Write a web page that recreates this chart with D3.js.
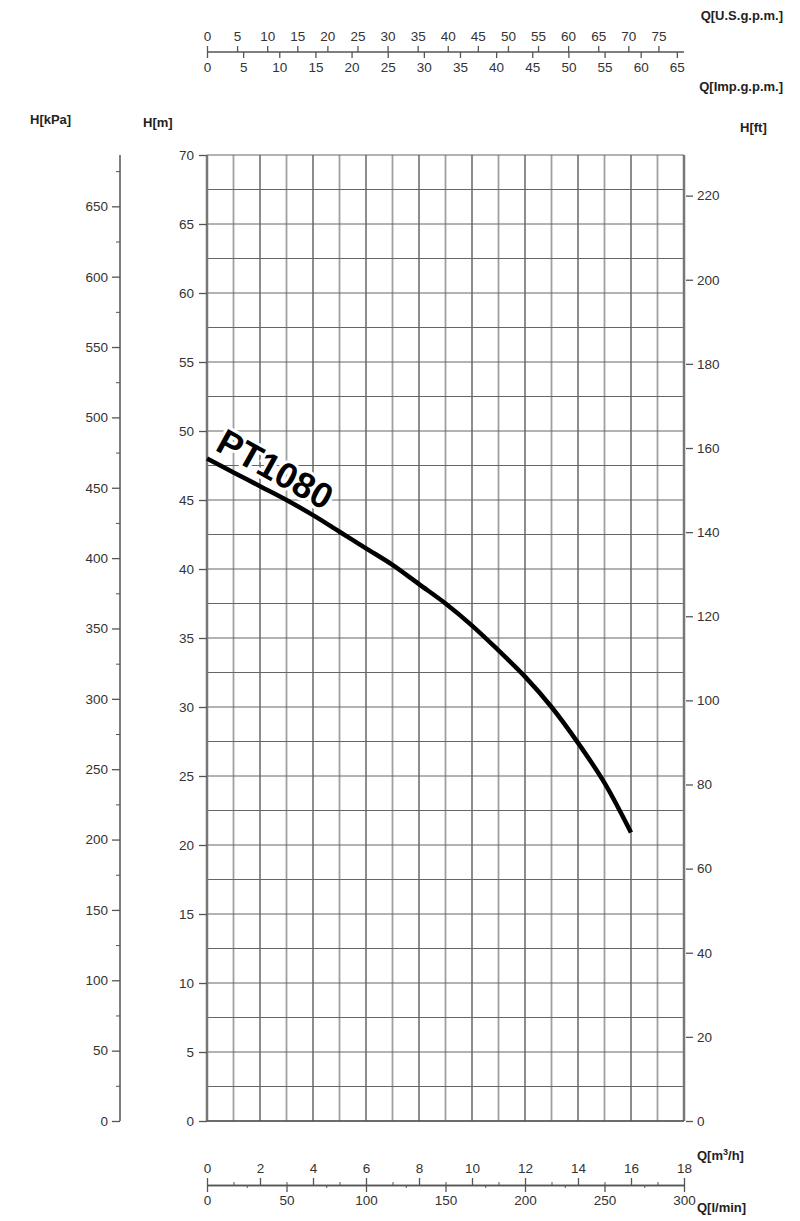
<!doctype html>
<html>
<head>
<meta charset="utf-8">
<script src="https://cdnjs.cloudflare.com/ajax/libs/d3/7.8.5/d3.min.js"></script>
<style>
  body { margin: 0; background: #fff; }
  svg { display: block; font-family: "Liberation Sans", Arial, sans-serif; }
  .axis text { font-size: 13.5px; fill: #333; }
  .axis path, .axis line { stroke: #555; }
  .title { font-size: 13px; font-weight: bold; fill: #222; }
</style>
</head>
<body>
<div id="chart"></div>
<script>
var w = 800, h = 1221;

// pump curve PT1080, Q in m3/h, H in m
var flowM3h = [0, 1, 2, 3, 4, 5, 6, 7, 8, 9, 10, 11, 12, 13, 14, 15, 16];
var headM = [48.0, 47.0, 46.0, 45.0, 43.9, 42.7, 41.5, 40.3, 38.9, 37.5, 35.9, 34.1, 32.2, 30.0, 27.4, 24.5, 20.9];
var curveName = "PT1080";

// tick labels
var mTicks = [0, 5, 10, 15, 20, 25, 30, 35, 40, 45, 50, 55, 60, 65, 70];
var kpaTicks = [0, 50, 100, 150, 200, 250, 300, 350, 400, 450, 500, 550, 600, 650];
var ftTicks = [0, 20, 40, 60, 80, 100, 120, 140, 160, 180, 200, 220];
var m3hTicks = [0, 2, 4, 6, 8, 10, 12, 14, 16, 18];
var lminTicks = [0, 50, 100, 150, 200, 250, 300];
var usTicks = [0, 5, 10, 15, 20, 25, 30, 35, 40, 45, 50, 55, 60, 65, 70, 75];
var impTicks = [0, 5, 10, 15, 20, 25, 30, 35, 40, 45, 50, 55, 60, 65];

var pLeft = 207, pRight = 684, pTop = 155, pBottom = 1121;
var qMax = 18, hMax = 70;

var x = d3.scaleLinear().domain([0, qMax]).range([pLeft, pRight]);
var y = d3.scaleLinear().domain([0, hMax]).range([pBottom, pTop]);
var yKpa = d3.scaleLinear().domain([0, hMax * 9.80665]).range([pBottom, pTop]);
var yFt = d3.scaleLinear().domain([0, hMax / 0.3048]).range([pBottom, pTop]);
var xLmin = d3.scaleLinear().domain([0, qMax * 1000 / 60]).range([pLeft, pRight]);
var xUs = d3.scaleLinear().domain([0, qMax * 1000 / 60 / 3.78541]).range([pLeft, pRight]);
var xImp = d3.scaleLinear().domain([0, qMax * 1000 / 60 / 4.54609]).range([pLeft, pRight]);

var svg = d3.select("#chart").append("svg")
    .attr("width", w)
    .attr("height", h);

// grid
svg.append("g").selectAll("line")
    .data(d3.range(0, qMax + 1, 1))
    .enter().append("line")
    .attr("x1", function (d) { return x(d); })
    .attr("x2", function (d) { return x(d); })
    .attr("y1", pTop).attr("y2", pBottom)
    .attr("stroke", function (d) { return d % 2 ? "#a0a0a0" : "#808080"; })
    .attr("stroke-width", 1.8);

svg.append("g").selectAll("line")
    .data(d3.range(0, hMax + 0.1, 2.5))
    .enter().append("line")
    .attr("x1", pLeft).attr("x2", pRight)
    .attr("y1", function (d) { return y(d); })
    .attr("y2", function (d) { return y(d); })
    .attr("stroke", "#666")
    .attr("stroke-width", 1);

// frame
svg.append("line").attr("x1", pLeft).attr("x2", pLeft).attr("y1", pTop).attr("y2", pBottom)
    .attr("stroke", "#777").attr("stroke-width", 2.5);
svg.append("line").attr("x1", pRight).attr("x2", pRight).attr("y1", pTop).attr("y2", pBottom)
    .attr("stroke", "#777").attr("stroke-width", 2.5);
svg.append("line").attr("x1", pLeft).attr("x2", pRight).attr("y1", pBottom).attr("y2", pBottom)
    .attr("stroke", "#555").attr("stroke-width", 1.5);

function tidy(g) {
    g.select(".domain").attr("stroke-width", 1.5);
    g.selectAll(".tick line").attr("stroke-width", 1.3);
}

// H[m] axis
svg.append("g").attr("class", "axis")
    .attr("transform", "translate(" + pLeft + ",0)")
    .call(d3.axisLeft(y).tickValues(mTicks).tickSize(8).tickPadding(5).tickSizeOuter(0))
    .call(function (g) { g.select(".domain").remove(); g.selectAll(".tick line").attr("stroke-width", 1.3); });

// H[kPa] axis
var kpaX = 120;
svg.append("g").attr("class", "axis")
    .attr("transform", "translate(" + kpaX + ",0)")
    .call(d3.axisLeft(yKpa).tickValues(d3.range(25, 700, 50)).tickSize(4).tickFormat("").tickSizeOuter(0))
    .call(function (g) { g.select(".domain").remove(); });
svg.append("g").attr("class", "axis")
    .attr("transform", "translate(" + kpaX + ",0)")
    .call(d3.axisLeft(yKpa).tickValues(kpaTicks).tickSize(8).tickPadding(4).tickSizeOuter(0))
    .call(tidy)
    .call(function (g) { g.select(".domain").attr("d", "M0," + pTop + "V" + pBottom); });

// H[ft] axis
svg.append("g").attr("class", "axis")
    .attr("transform", "translate(" + (pRight + 2) + ",0)")
    .call(d3.axisRight(yFt).tickValues(ftTicks).tickSize(7).tickPadding(4).tickSizeOuter(0))
    .call(function (g) { g.select(".domain").remove(); g.selectAll(".tick line").attr("stroke-width", 1.3); });

// bottom axes
var qY = 1185;
svg.append("g").attr("class", "axis")
    .attr("transform", "translate(0," + qY + ")")
    .call(d3.axisTop(x).tickValues(d3.range(1, 18, 2)).tickSize(3).tickFormat("").tickSizeOuter(0))
    .call(function (g) { g.select(".domain").remove(); });
svg.append("g").attr("class", "axis")
    .attr("transform", "translate(0," + qY + ")")
    .call(d3.axisTop(x).tickValues(m3hTicks).tickSize(7).tickPadding(5).tickSizeOuter(0))
    .call(tidy);
svg.append("g").attr("class", "axis")
    .attr("transform", "translate(0," + qY + ")")
    .call(d3.axisBottom(xLmin).tickValues(d3.range(25, 300, 50)).tickSize(3).tickFormat("").tickSizeOuter(0))
    .call(function (g) { g.select(".domain").remove(); });
svg.append("g").attr("class", "axis")
    .attr("transform", "translate(0," + qY + ")")
    .call(d3.axisBottom(xLmin).tickValues(lminTicks).tickSize(7).tickPadding(3).tickSizeOuter(0))
    .call(tidy);

// top axes
var gY = 52;
svg.append("g").attr("class", "axis")
    .attr("transform", "translate(0," + gY + ")")
    .call(d3.axisTop(xUs).tickValues(usTicks).tickSize(6).tickPadding(5).tickSizeOuter(0))
    .call(tidy)
    .call(function (g) { g.select(".domain").attr("d", "M" + pLeft + ",0H" + pRight); });
svg.append("g").attr("class", "axis")
    .attr("transform", "translate(0," + gY + ")")
    .call(d3.axisBottom(xImp).tickValues(impTicks).tickSize(6).tickPadding(4).tickSizeOuter(0))
    .call(function (g) { g.select(".domain").remove(); g.selectAll(".tick line").attr("stroke-width", 1.3); });

// axis titles
function title(tx, ty, s, anchor) {
    svg.append("text").attr("class", "title")
        .attr("x", tx).attr("y", ty)
        .attr("text-anchor", anchor || "start")
        .text(s);
}
title(783, 20, "Q[U.S.g.p.m.]", "end");
title(783, 91, "Q[Imp.g.p.m.]", "end");
title(30, 124, "H[kPa]");
title(143, 127, "H[m]");
title(740, 132, "H[ft]");
svg.append("text").attr("class", "title").attr("x", 697).attr("y", 1160)
    .html("Q[m<tspan font-size='9' dy='-5'>3</tspan><tspan dy='5'>/h]</tspan>");
title(697, 1212, "Q[l/min]");

// curve
var line = d3.line()
    .x(function (d, i) { return x(flowM3h[i]); })
    .y(function (d) { return y(d); })
    .curve(d3.curveCatmullRom);

svg.append("path")
    .datum(headM)
    .attr("d", line)
    .attr("fill", "none")
    .attr("stroke", "#000")
    .attr("stroke-width", 4.5);

// curve label
svg.append("text")
    .attr("transform", "translate(" + (x(flowM3h[0]) + 7) + "," + (y(headM[0]) - 9) + ") rotate(29)")
    .attr("font-size", 36)
    .attr("font-weight", "bold")
    .attr("fill", "#000")
    .attr("stroke", "#fff")
    .attr("stroke-width", 6)
    .attr("paint-order", "stroke")
    .text(curveName);
</script>
</body>
</html>
